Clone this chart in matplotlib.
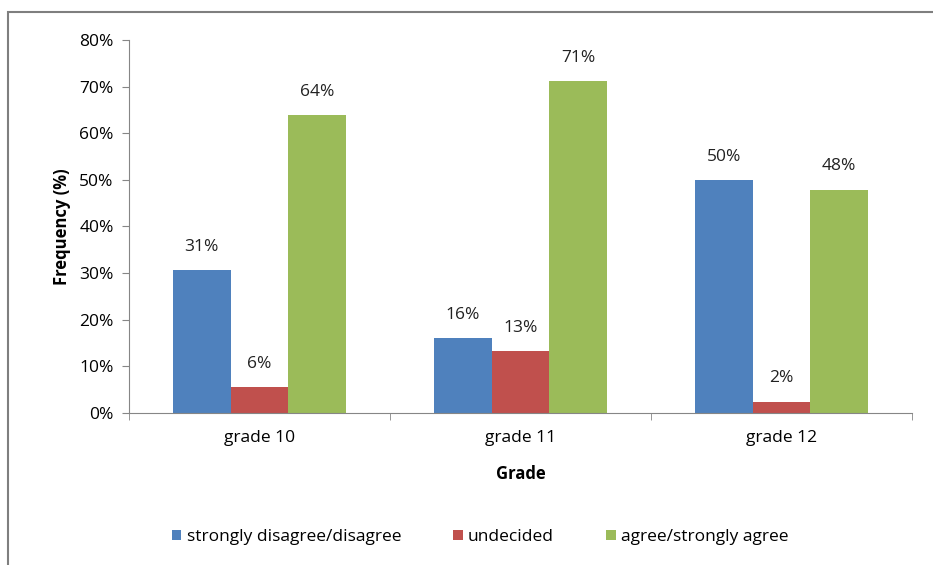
import matplotlib.pyplot as plt
import numpy as np
from matplotlib.patches import Rectangle

grades = ["grade 10", "grade 11", "grade 12"]
series_names = ["strongly disagree/disagree", "undecided", "agree/strongly agree"]
disagree = [30.7, 16.1, 50.0]
undecided = [5.6, 13.3, 2.4]
agree = [63.9, 71.2, 47.9]
yticks = [0, 10, 20, 30, 40, 50, 60, 70, 80]

colors = ["#4F81BD", "#C0504D", "#9BBB59"]
axis_grey = "#868686"

plt.rcParams["font.family"] = ["Open Sans", "DejaVu Sans"]

fig = plt.figure(figsize=(9.33, 5.65), dpi=100)
ax = fig.add_axes([129 / 933, 1 - 413 / 565, (912 - 129) / 933, (413 - 40) / 565])

# outer chart frame
fig.patches.append(Rectangle((8 / 933, -0.05), 1.0, 1 - 12 / 565 + 0.05,
                             transform=fig.transFigure, fill=False,
                             edgecolor="#7f7f7f", linewidth=1.5))

x = np.arange(len(grades))
width = 0.221
for i, (vals, name, color) in enumerate(zip([disagree, undecided, agree], series_names, colors)):
    pos = x + (i - 1) * width
    ax.bar(pos, vals, width, color=color, label=name)
    for p, v in zip(pos, vals):
        ax.text(p, v + 5, f"{v:.0f}%", ha="center", va="center", fontsize=12.5, color="#222222")

ax.set_xlim(-0.5, 2.5)
ax.set_ylim(0, 80)
ax.set_yticks(yticks)
ax.set_yticklabels([f"{t}%" for t in yticks], fontsize=12.5)
ax.set_xticks(x)
ax.set_xticklabels(grades, fontsize=12.5)
ax.set_xticks([-0.5, 0.5, 1.5, 2.5], minor=True)
ax.tick_params(axis="x", which="major", length=0, pad=12)
ax.tick_params(axis="x", which="minor", length=5, color=axis_grey, direction="out")
ax.tick_params(axis="y", length=5, color=axis_grey, direction="out", pad=6)

for side in ["top", "right"]:
    ax.spines[side].set_visible(False)
for side in ["left", "bottom"]:
    ax.spines[side].set_color(axis_grey)

ax.set_ylabel("Frequency (%)", fontsize=12, fontweight="bold", labelpad=6)
ax.set_xlabel("Grade", fontsize=12, fontweight="bold", labelpad=14)

ax.legend(loc="center", bbox_to_anchor=(480 / 933, 1 - 537 / 565), bbox_transform=fig.transFigure,
          ncol=3, frameon=False, fontsize=12.5, handlelength=0.55, handleheight=0.55,
          handletextpad=0.3, columnspacing=3.0)

fig.savefig("out.png", dpi=100)
